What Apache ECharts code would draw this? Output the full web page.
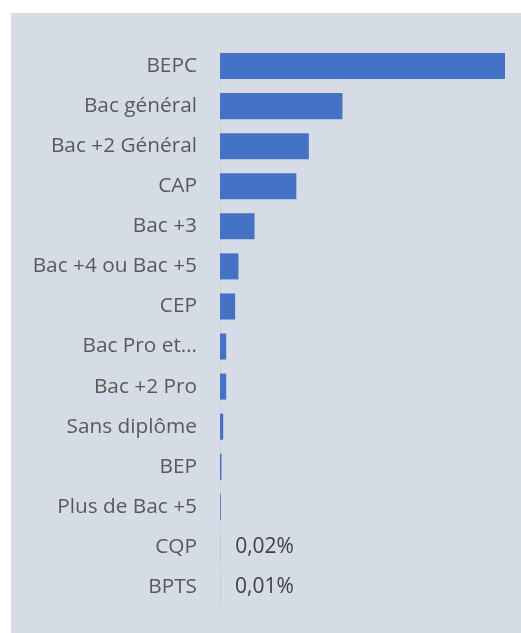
<!DOCTYPE html>
<html>
<head>
<meta charset="utf-8">
<script src="https://cdn.jsdelivr.net/npm/echarts@6/dist/echarts.min.js"></script>
<style>
  html, body { margin: 0; padding: 0; background: #ffffff; }
  #chart { position: absolute; left: 11px; top: 13px; width: 510px; height: 620px; background: #d6dce5; }
</style>
</head>
<body>
<div id="chart"></div>
<script>
// diplômes, du plus fréquent au moins fréquent (en %)
var categories = ['BEPC', 'Bac général', 'Bac +2 Général', 'CAP', 'Bac +3', 'Bac +4 ou Bac +5', 'CEP',
  'Bac Pro et…', 'Bac +2 Pro', 'Sans diplôme', 'BEP', 'Plus de Bac +5', 'CQP', 'BPTS'];
var values = [43.3, 18.6, 13.5, 11.6, 5.25, 2.8, 2.3, 0.94, 0.94, 0.49, 0.23, 0.12, 0.02, 0.01];
// seules ces barres ont une étiquette visible
var labelled = ['CQP', 'BPTS'];

var myChart = echarts.init(document.getElementById('chart'));
myChart.setOption({
  animation: false,
  grid: {
    left: 209,
    right: 16,
    top: 33,
    bottom: 26
  },
  xAxis: {
    type: 'value',
    min: 0,
    max: 43.3,
    show: false
  },
  yAxis: {
    type: 'category',
    data: categories,
    inverse: true,
    axisTick: { show: false },
    axisLine: { lineStyle: { color: '#cfd2d8', width: 1 } },
    axisLabel: {
      color: '#595959',
      fontFamily: 'Open Sans',
      fontSize: 20.8,
      margin: 23
    }
  },
  series: [
    {
      type: 'bar',
      data: values,
      barCategoryGap: '35%',
      itemStyle: { color: '#4472c4' },
      label: {
        show: true,
        position: 'right',
        distance: 15,
        color: '#404040',
        fontFamily: 'Open Sans',
        fontSize: 21,
        formatter: function (p) {
          if (labelled.indexOf(p.name) < 0) return '';
          return p.value.toFixed(2).replace('.', ',') + '%';
        }
      }
    }
  ]
});
</script>
</body>
</html>
